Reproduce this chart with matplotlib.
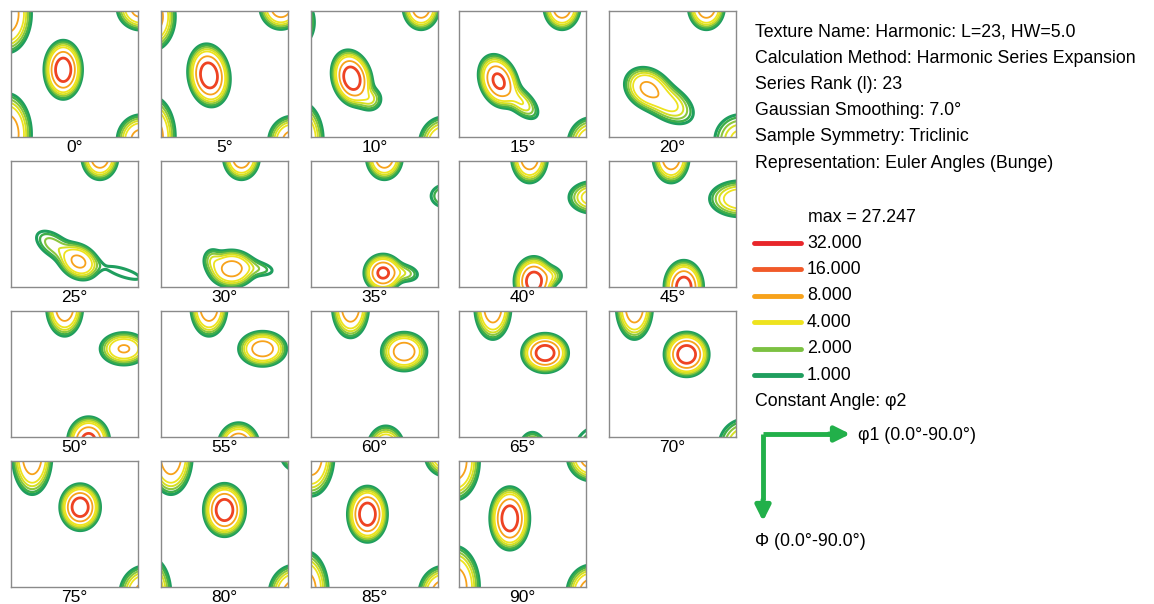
import numpy as np
import matplotlib
matplotlib.use('Agg')
import matplotlib.pyplot as plt

plt.rcParams['font.family'] = ['Liberation Sans', 'DejaVu Sans']

# phi2 sections of the ODF
sections = [0, 5, 10, 15, 20, 25, 30, 35, 40, 45, 50, 55, 60, 65, 70, 75, 80, 85, 90]

# texture components per section: (phi1, Phi, intensity, width, height, tilt)
peaks_00 = [(37, 42, 27, 5.3, 8.2, 0), (-3, 2, 15, 7.5, 12, 0), (-3, 88, 15, 7.5, 12.5, 0),
            (92, -2, 12, 7.5, 7, 0), (92, 92, 12, 7.5, 8, 0)]
peaks_05 = [(34, 46, 27, 5.8, 8.8, 8), (-6, 4, 14, 7, 10.5, 0), (-6, 90, 14, 7, 12.5, 0),
            (85, -3, 14, 6.5, 7, 0), (93, 93, 12, 7.5, 8, 0)]
peaks_10 = [(29, 48, 27, 5.5, 8, 15), (42, 63, 3, 5, 5, 0), (-9, 8, 6, 6, 9, 0),
            (-7, 92, 12, 7, 12, 0), (78, -3, 15, 5.5, 7, 0), (94, 95, 10, 8, 9, 0)]
peaks_15 = [(28, 50, 20, 5.5, 8, 20), (44, 65, 4, 4.5, 9, 45),
            (73, -3, 15, 5.5, 7, 0), (94, 95, 9, 8, 9, 0)]
peaks_20 = [(27, 55, 9, 6.5, 8, 57), (42, 66, 5, 6.5, 11, 57),
            (69, -3, 15, 5.5, 7, 0), (93, 92, 5, 10, 10, 0)]
peaks_25 = [(48, 72, 10, 5.5, 7, 55), (30, 60, 2.5, 5.5, 10, 55), (80, 80, 1.3, 4, 16, 72),
            (63, -3, 15, 5.5, 7, 0)]
peaks_30 = [(50, 77, 12, 7.5, 6, 0), (36, 70, 2, 4, 5, 0), (70, 77, 1.6, 4, 9, 80),
            (57, -3, 15, 5.5, 7, 0)]
peaks_35 = [(51, 80, 20, 5.5, 5.5, 0), (66, 80, 2.5, 4, 7, 80), (52, -3, 15, 5.5, 7, 0),
            (96, 25, 2.5, 8, 6, 0)]
peaks_40 = [(53, 86, 25, 5.5, 7, 0), (65, 82, 3, 5, 4, 0), (50, -3, 15, 5.5, 8, 0),
            (95, 26, 6, 9, 6, 0)]
peaks_45 = [(53, 90, 25, 5.5, 7.5, 0), (44, -3, 15, 5.5, 8, 0), (93, 27, 7, 11, 6.5, 0)]
peaks_50 = [(38, -3, 15, 5.5, 9, 0), (80, 27, 9, 8, 5.5, 0), (55, 93, 22, 6, 7, 0)]
peaks_55 = [(34, -3, 15, 5.5, 9, 0), (72, 27, 13, 7.5, 5.5, 0), (55, 97, 20, 6, 7, 0)]
peaks_60 = [(28, -3, 15, 5.5, 9.5, 0), (66, 29, 14, 7, 6, 0), (53, 100, 12, 6, 8, 0)]
peaks_65 = [(24, -3, 15, 5.5, 10, 0), (61, 30, 26, 6.5, 5.5, 0), (52, 103, 8, 5, 8, 0),
            (100, 100, 3, 12, 12, 0)]
peaks_70 = [(18, -3, 15, 5.5, 10, 0), (55, 31, 27, 6.2, 6.2, 0), (97, 96, 6, 10, 10, 0)]
peaks_75 = [(15, -4, 15, 6, 12, 0), (49, 33, 27, 5.6, 6.5, 0), (95, 95, 12, 8, 9, 0)]
peaks_80 = [(7, -4, 15, 6.5, 12, 0), (100, -5, 6, 8, 7, 0), (45, 35, 27, 5.8, 7.4, 0),
            (-7, 95, 10, 6.5, 12, 0), (95, 95, 14, 8, 9, 0)]
peaks_85 = [(0, -4, 15, 7, 12.5, 0), (96, -4, 10, 7, 7, 0), (40, 38, 27, 5.5, 7.8, 0),
            (-4, 92, 14, 7, 12, 0), (94, 95, 15, 7.5, 8.5, 0)]
peaks_90 = [(-3, 0, 15, 7.5, 12, 0), (94, -3, 14, 7.5, 7.5, 0), (36, 41, 27, 5.5, 8.8, 0),
            (-3, 90, 15, 7.5, 12.5, 0), (94, 94, 15, 7.5, 8.5, 0)]

section_peaks = [peaks_00, peaks_05, peaks_10, peaks_15, peaks_20, peaks_25, peaks_30,
                 peaks_35, peaks_40, peaks_45, peaks_50, peaks_55, peaks_60, peaks_65,
                 peaks_70, peaks_75, peaks_80, peaks_85, peaks_90]

legend_levels = [32, 16, 8, 4, 2, 1]
legend_colors = ['#e8262a', '#f15a29', '#f7a21b', '#eee31e', '#7cc142', '#1f9e5e']

# contour lines drawn in each section (with in-between steps)
line_levels = [1, 1.4, 2, 2.8, 4, 8, 16, 32]
line_colors = ['#1f9e5e', '#3fae49', '#8cc63f', '#d6df23', '#eee31e', '#f7a21b', '#ee4323', '#e8262a']
line_widths = [2.2, 1.7, 1.5, 1.4, 1.3, 1.3, 2.0, 2.0]
max_value = 27.247


def odf_section(peaks, p1, ph):
    f = np.zeros_like(p1)
    for x0, y0, amp, sx, sy, tilt in peaks:
        a = np.radians(tilt)
        dx = p1 - x0
        dy = ph - y0
        u = dx * np.cos(a) - dy * np.sin(a)
        v = dx * np.sin(a) + dy * np.cos(a)
        f += amp * np.exp(-0.5 * ((u / sx) ** 2 + (v / sy) ** 2))
    return f


W, H = 1154, 604
fig = plt.figure(figsize=(W / 100, H / 100), dpi=100)

grid = np.linspace(-4, 94, 197)
P1, PH = np.meshgrid(grid, grid)

col_x = [11, 161, 311, 459, 609]
row_y = [11, 161, 311, 461]
pw, ph_ = 127, 126

for i, (sec, peaks) in enumerate(zip(sections, section_peaks)):
    r, c = divmod(i, 5)
    x0, y0 = col_x[c], row_y[r]
    ax = fig.add_axes([x0 / W, 1 - (y0 + ph_) / H, pw / W, ph_ / H])
    Z = odf_section(peaks, P1, PH)
    ax.contour(P1, PH, Z, levels=line_levels, colors=line_colors, linewidths=line_widths)
    ax.set_xlim(0, 90)
    ax.set_ylim(90, 0)
    ax.set_xticks([])
    ax.set_yticks([])
    for s in ax.spines.values():
        s.set_color('#8a8a8a')
        s.set_linewidth(1.0)
    fig.text((x0 + pw / 2) / W, 1 - (y0 + ph_ + 10) / H, '%d°' % sec,
             ha='center', va='center', fontsize=12.5)

# info panel on the right, laid out in pixels
ov = fig.add_axes([0, 0, 1, 1])
ov.set_xlim(0, W)
ov.set_ylim(H, 0)
ov.axis('off')

fs = 12.8
info = ['Texture Name: Harmonic: L=23, HW=5.0',
        'Calculation Method: Harmonic Series Expansion',
        'Series Rank (l): 23',
        'Gaussian Smoothing: 7.0°',
        'Sample Symmetry: Triclinic',
        'Representation: Euler Angles (Bunge)']
for k, line in enumerate(info):
    ov.text(755, 32 + 26.2 * k, line, ha='left', va='center', fontsize=fs)

ov.text(808, 217, 'max = %.3f' % max_value, ha='left', va='center', fontsize=fs)
for k, (lev, col) in enumerate(zip(legend_levels, legend_colors)):
    yy = 243 + 26.4 * k
    ov.plot([754, 801], [yy, yy], color=col, lw=3.5, solid_capstyle='round')
    ov.text(807, yy, '%.3f' % lev, ha='left', va='center', fontsize=fs)

ov.text(755, 402, 'Constant Angle: φ2', ha='left', va='center', fontsize=fs)

green = '#22b04a'
ov.plot([763, 763], [434, 500], color=green, lw=3.5, solid_capstyle='butt')
ov.plot([763, 830], [434, 434], color=green, lw=3.5, solid_capstyle='butt')
ov.annotate('', xy=(853, 434), xytext=(826, 434),
            arrowprops=dict(arrowstyle='-|>,head_length=0.9,head_width=0.45', color=green, lw=3.5))
ov.annotate('', xy=(763, 524), xytext=(763, 497),
            arrowprops=dict(arrowstyle='-|>,head_length=0.9,head_width=0.45', color=green, lw=3.5))
ov.text(858, 435, 'φ1 (0.0°-90.0°)', ha='left', va='center', fontsize=fs)
ov.text(755, 542, 'Φ (0.0°-90.0°)', ha='left', va='center', fontsize=fs)

fig.savefig('out.png', dpi=100)
